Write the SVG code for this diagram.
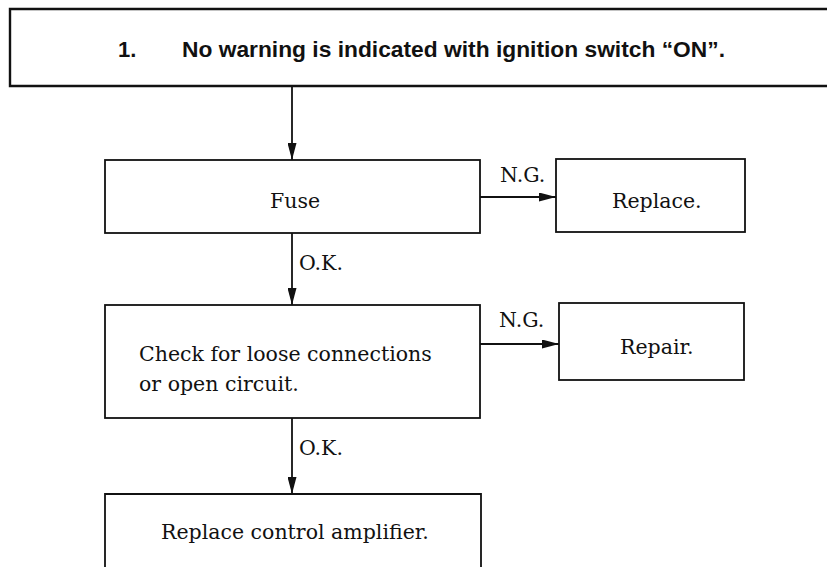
<svg xmlns="http://www.w3.org/2000/svg" width="827" height="567" viewBox="0 0 827 567">
<style>
.box{fill:#fff;stroke:#111;stroke-width:1.8}
.t{font-family:"DejaVu Serif","Liberation Serif",serif;font-size:20.5px;fill:#111}
.title{font-family:"Liberation Sans","DejaVu Sans",sans-serif;font-size:22px;font-weight:bold;fill:#111}
.c{stroke:#111;stroke-width:1.8;fill:none}
</style>
<defs>
<marker id="ah" markerWidth="17" markerHeight="9" refX="17" refY="4.5" orient="auto" markerUnits="userSpaceOnUse">
<path d="M0,0 L17,4.5 L0,9 Z" fill="#111"/>
</marker>
</defs>
<g id="connectors">
<line class="c" x1="292" y1="86" x2="292" y2="160" marker-end="url(#ah)"/>
<line class="c" x1="480" y1="197" x2="556" y2="197" marker-end="url(#ah)"/>
<line class="c" x1="292" y1="233" x2="292" y2="305" marker-end="url(#ah)"/>
<line class="c" x1="480" y1="344" x2="559" y2="344" marker-end="url(#ah)"/>
<line class="c" x1="292" y1="418" x2="292" y2="494" marker-end="url(#ah)"/>
<text class="t" x="500" y="182">N.G.</text>
<text class="t" x="299" y="270">O.K.</text>
<text class="t" x="499" y="327">N.G.</text>
<text class="t" x="299" y="455">O.K.</text>
</g>
<g id="title">
<path d="M830 9 H10 V86 H830" fill="#fff" stroke="#111" stroke-width="2.4"/>
<text class="title" x="118" y="57">1.</text>
<text class="title" x="182" y="57" textLength="543" lengthAdjust="spacingAndGlyphs">No warning is indicated with ignition switch “ON”.</text>
</g>
<g id="fuse">
<rect class="box" x="105" y="160" width="375" height="73"/>
<text class="t" x="270" y="208">Fuse</text>
</g>
<g id="replace">
<rect class="box" x="556" y="159" width="189" height="73"/>
<text class="t" x="612" y="208">Replace.</text>
</g>
<g id="check">
<rect class="box" x="105" y="305" width="375" height="113"/>
<text class="t" x="139" y="361">Check for loose connections</text>
<text class="t" x="139" y="391">or open circuit.</text>
</g>
<g id="repair">
<rect class="box" x="559" y="303" width="185" height="77"/>
<text class="t" x="620" y="354">Repair.</text>
</g>
<g id="amplifier">
<path class="box" d="M105 570 V494 H481 V570"/>
<text class="t" x="161" y="539">Replace control amplifier.</text>
</g>
</svg>
